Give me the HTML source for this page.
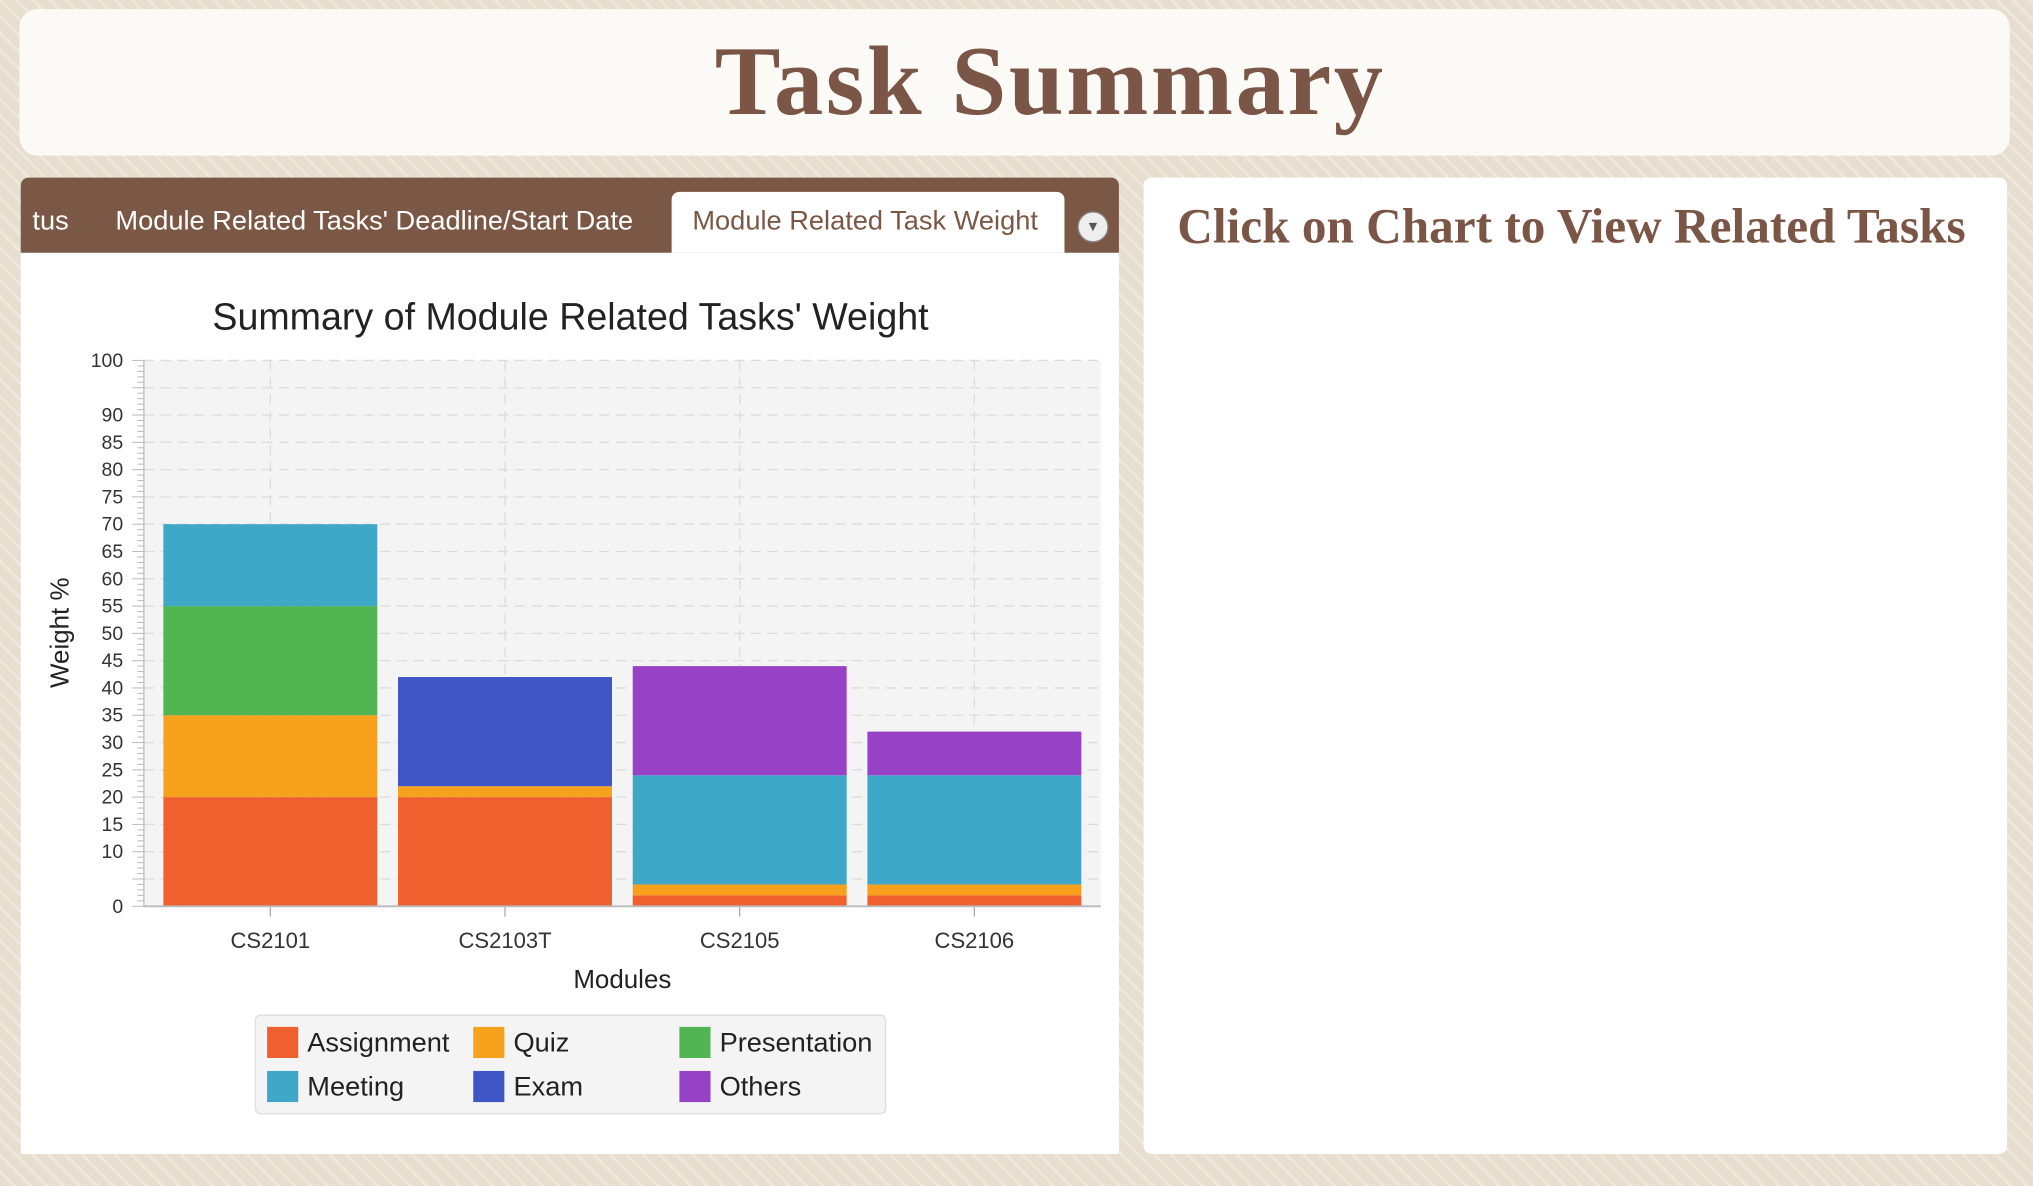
<!DOCTYPE html>
<html><head><meta charset="utf-8">
<style>
html,body{margin:0;padding:0;width:2033px;height:1186px;overflow:hidden;background:#e6dfd0;}
#wrap{position:absolute;left:0;top:0;width:1568px;height:915px;transform:scale(1.29656);transform-origin:0 0;
 background:repeating-linear-gradient(45deg,#e6dfd0 0 7px,#efe9dd 7px 9px);font-family:"Liberation Sans",sans-serif;}
.abs{position:absolute;}
</style></head><body>
<div id="wrap">
 <div class="abs" style="left:15px;top:7px;width:1535px;height:113px;background:#fbfaf7;border-radius:14px;"></div>
 <div class="abs" style="left:15px;top:20px;width:1590px;text-align:center;font-family:'Liberation Serif',serif;font-weight:bold;font-size:76px;color:#7b5646;letter-spacing:2px;">Task Summary</div>

 <div class="abs" style="left:16px;top:137px;width:847px;height:58px;background:#7b5846;border-radius:6px 6px 0 0;"></div>
 <div class="abs" style="left:25px;top:159px;color:#fff;font-size:21px;">tus</div>
 <div class="abs" style="left:89px;top:159px;color:#fff;font-size:21px;">Module Related Tasks' Deadline/Start Date</div>
 <div class="abs" style="left:518px;top:148px;width:303px;height:47px;background:#fff;border-radius:6px 6px 0 0;"></div>
 <div class="abs" style="left:534px;top:159px;color:#7b5846;font-size:21px;">Module Related Task Weight</div>
 <div class="abs" style="left:831px;top:163px;width:22px;height:22px;border-radius:50%;background:#eee;border:1px solid #888;text-align:center;line-height:22px;font-size:11px;color:#555;">▼</div>

 <div class="abs" style="left:16px;top:195px;width:847px;height:695px;background:#fff;"></div>
 <div class="abs" style="left:882px;top:137px;width:666px;height:753px;background:#fff;border-radius:6px;"></div>
 <div class="abs" style="left:908px;top:153px;font-family:'Liberation Serif',serif;font-weight:bold;font-size:38px;color:#7b5646;">Click on Chart to View Related Tasks</div>

 <svg class="abs" style="left:0;top:0" width="1568" height="915" id="chart"></svg>
</div>
<script>
const categories=["CS2101","CS2103T","CS2105","CS2106"];
const seriesNames=["Assignment","Quiz","Presentation","Meeting","Exam","Others"];
const assignment=[20,20,2,2];
const quiz=[15,2,2,2];
const presentation=[20,0,0,0];
const meeting=[15,0,20,20];
const exam=[0,20,0,0];
const others=[0,0,20,8];
const yTickLabels=[0,10,15,20,25,30,35,40,45,50,55,60,65,70,75,80,85,90,100];
const colors=["#f05f2e","#f7a11d","#51b552","#3fa8c8","#4056c7","#9641c6"];
const series=[assignment,quiz,presentation,meeting,exam,others];
const NS="http://www.w3.org/2000/svg";
const svg=document.getElementById('chart');
const L=111,R=849,T=278,B=699,yMax=100,CL=118,CR=842;
const y=v=>B-(v/yMax)*(B-T);
const band=(CR-CL)/categories.length;
const xc=i=>CL+band*(i+0.5);
function mk(t,a,p){const e=document.createElementNS(NS,t);for(const k in a)e.setAttribute(k,a[k]);(p||svg).appendChild(e);return e;}
let e;
e=mk('rect',{x:L,y:T,width:R-L,height:B-T,fill:'#f4f4f4'});


for(let v=5;v<=yMax;v+=5){e=mk('line',{x1:L,x2:R,y1:y(v),y2:y(v),stroke:'#dcdcdc','stroke-dasharray':'8 5'});

}
categories.forEach((c,i)=>{e=mk('line',{x1:xc(i),x2:xc(i),y1:T,y2:B,stroke:'#dcdcdc','stroke-dasharray':'8 5'});

});
categories.forEach((c,i)=>{let acc=0;const w=band-16;
 series.forEach((s,k)=>{const v=s[i];if(!v)return;
  e=mk('rect',{x:xc(i)-w/2,y:y(acc+v),width:w,height:y(acc)-y(acc+v),fill:colors[k]});
  
  
  acc+=v;});
 e=mk('text',{x:xc(i),y:B+32,'text-anchor':'middle','font-size':17,fill:'#333'});e.textContent=c;
 
 
 mk('line',{x1:xc(i),x2:xc(i),y1:B,y2:B+8,stroke:'#aaa'});
});
mk('line',{x1:L,x2:R,y1:B,y2:B,stroke:'#bbb','stroke-width':1.5});
mk('line',{x1:L,x2:L,y1:T,y2:B,stroke:'#bbb'});
for(let v=0;v<=yMax;v++){mk('line',{x1:L-(v%5?5:9),x2:L,y1:y(v),y2:y(v),stroke:'#bbb','stroke-width':0.8});}
yTickLabels.forEach(v=>{e=mk('text',{x:L-16,y:y(v)+5,'text-anchor':'end','font-size':15,fill:'#333'});e.textContent=v;
 
 });
e=mk('text',{x:440,y:254,'text-anchor':'middle','font-size':29,fill:'#222'});e.textContent="Summary of Module Related Tasks' Weight";


e=mk('text',{x:480,y:762,'text-anchor':'middle','font-size':20,fill:'#222'});e.textContent="Modules";


e=mk('text',{x:0,y:0,'text-anchor':'middle','font-size':20,fill:'#222',transform:'translate(53,488) rotate(-90)'});e.textContent="Weight %";


e=mk('rect',{x:197,y:783,width:486,height:76,rx:4,fill:'#f4f4f4',stroke:'#ddd'});


seriesNames.forEach((n,k)=>{const col=[206,365,524],cx=col[k%3],cy=k<3?804:838;
 const g=mk('g',{});
 
 
 mk('rect',{x:cx,y:cy-12,width:24,height:24,fill:colors[k]},g);
 const t=mk('text',{x:cx+31,y:cy+7,'font-size':21,fill:'#222'},g);t.textContent=n;});
</script>
</body></html>
